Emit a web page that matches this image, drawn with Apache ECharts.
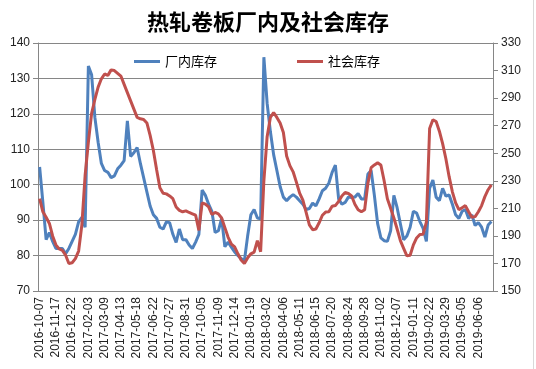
<!DOCTYPE html>
<html>
<head>
<meta charset="utf-8">
<script src="https://cdn.jsdelivr.net/npm/echarts@6/dist/echarts.min.js"></script>
<style>
  html, body { margin: 0; padding: 0; background: #fff; }
  #chart { width: 536px; height: 369px; }
</style>
</head>
<body>
<div id="chart"></div>
<script>
// tick labels shown every 5 weeks
var tickLabels = [
  '2016-10-07', '2016-11-17', '2016-12-22', '2017-02-03', '2017-03-09', '2017-04-13', '2017-05-18',
  '2017-06-22', '2017-07-27', '2017-08-31', '2017-10-05', '2017-11-09', '2017-12-14', '2018-01-19',
  '2018-03-02', '2018-04-06', '2018-05-11', '2018-06-15', '2018-07-20', '2018-08-24', '2018-09-28',
  '2018-11-02', '2018-12-07', '2019-01-11', '2019-02-22', '2019-03-29', '2019-05-05', '2019-06-06'
]

// 厂内库存 (left axis)
var factoryStock = [
  105, 95, 84.5, 86.5, 84, 82, 82, 82, 80.5, 82,
  84, 86, 89.5, 90.8, 88, 133.5, 131, 119, 112, 106,
  104, 103.5, 102, 102.5, 104.5, 105.5, 106.8, 118, 108, 109,
  110.5, 106, 102, 98, 94, 91.5, 90.5, 88, 87.5, 89.5,
  89.3, 86, 83.7, 87.5, 84.5, 84.5, 83, 82, 83.8, 86,
  98.5, 97, 94.5, 92.5, 86.5, 87, 90.5, 82.5, 83.8, 82.4,
  81, 80, 79.2, 78.5, 85.5, 91.5, 93, 90.6, 90.4, 136,
  123, 115, 108.5, 104, 99.5, 96.5, 95.5, 96.5, 97.2, 96.5,
  95.5, 94.5, 93, 93.3, 94.8, 94, 96, 98.3, 99, 100.5,
  103.5, 105.5, 96, 94.5, 95, 96.5, 96.4, 96.5, 97.5, 96,
  96, 103, 104, 97, 89, 85, 84.2, 84, 87, 97,
  93.5, 89, 84.5, 85.5, 88, 92.5, 92, 89.6, 87.7, 84,
  99, 101.3, 96.5, 95.5, 99, 96.8, 97.1, 94.5, 91.5, 90.5,
  92.5, 93, 90.5, 91.5, 88.5, 89.3, 88, 85.2, 88.6, 89.6
]

// 社会库存 (right axis)
var socialStock = [
  217, 207.5, 203.5, 199, 190, 183.5, 180.5, 179.5, 176, 170,
  170.5, 173.5, 179, 198, 234, 258, 279, 289, 298, 304,
  307.5, 306.5, 310.5, 310, 308, 306, 300, 294, 288, 282,
  276, 275, 274.5, 272, 263, 252, 238, 225, 221, 220.5,
  219, 217, 211, 208.5, 207.5, 208.2, 207, 206, 205, 194,
  214, 213, 211, 205.5, 207, 206, 203, 196, 189, 184,
  182, 177, 172.5, 170, 174, 177, 178.2, 186.5, 178.5, 230,
  262, 276, 279.5, 276, 272, 265, 248, 241, 236.5, 229,
  221, 216, 207, 198, 194.5, 195, 199.5, 205, 207.3, 207.5,
  211.5, 212, 215, 219, 221.5, 220.8, 219, 213, 209, 207.5,
  209, 228, 239.5, 241.5, 243, 241.5, 230, 217, 210, 203,
  195, 186.5, 181, 175.5, 176, 183.5, 188.5, 191, 191.2, 200,
  268, 274.3, 273, 266, 257, 246, 233, 222, 214, 209,
  210.5, 212, 207.5, 203.5, 204, 207.5, 212, 218.5, 223.5, 227
]

// weekly categories between the labelled dates
function fmt(d) {
  var m = d.getUTCMonth() + 1, day = d.getUTCDate()
  return d.getUTCFullYear() + '-' + (m < 10 ? '0' : '') + m + '-' + (day < 10 ? '0' : '') + day
}
var categories = []
for (var i = 0; i < factoryStock.length; i++) {
  var base = new Date(tickLabels[Math.floor(i / 5)] + 'T00:00:00Z')
  base.setUTCDate(base.getUTCDate() + 7 * (i % 5))
  categories.push(i % 5 === 0 ? tickLabels[i / 5] : fmt(base))
}

var axisFont = { color: '#222', fontSize: 12, fontFamily: 'Liberation Sans' }

var chart = echarts.init(document.getElementById('chart'))
chart.setOption({
  animation: false,
  title: {
    text: '热轧卷板厂内及社会库存',
    left: 'center',
    top: 6,
    textStyle: { fontFamily: 'Noto Sans CJK SC', fontSize: 22, fontWeight: 'bold', color: '#000' }
  },
  legend: {
    top: 50,
    left: 129,
    itemWidth: 26,
    itemHeight: 3,
    itemGap: 80,
    icon: 'rect',
    textStyle: { fontFamily: 'Noto Sans CJK SC', fontSize: 13, color: '#000' },
    data: ['厂内库存', '社会库存']
  },
  grid: { left: 38, right: 43, top: 43, bottom: 78, containLabel: false },
  xAxis: {
    type: 'category',
    data: categories,
    boundaryGap: true,
    axisLine: { lineStyle: { color: '#868686' } },
    axisTick: { interval: 0, length: 3, lineStyle: { color: '#868686' } },
    axisLabel: Object.assign({ interval: 4, rotate: 90, margin: 6 }, axisFont)
  },
  yAxis: [
    {
      type: 'value',
      min: 70,
      max: 140,
      interval: 10,
      axisLine: { show: true, lineStyle: { color: '#868686' } },
      axisTick: { show: true, length: 5, lineStyle: { color: '#868686' } },
      axisLabel: Object.assign({ margin: 8 }, axisFont),
      splitLine: { lineStyle: { color: '#868686' } }
    },
    {
      type: 'value',
      position: 'right',
      min: 150,
      max: 330,
      interval: 20,
      axisLine: { show: true, lineStyle: { color: '#868686' } },
      axisTick: { show: true, length: 5, lineStyle: { color: '#868686' } },
      axisLabel: Object.assign({ margin: 8 }, axisFont),
      splitLine: { show: false }
    }
  ],
  graphic: [
    { type: 'line', shape: { x1: 533.5, y1: 0, x2: 533.5, y2: 369 }, style: { stroke: '#d9d9d9', lineWidth: 1 } }
  ],
  series: [
    {
      name: '厂内库存',
      type: 'line',
      yAxisIndex: 0,
      data: factoryStock,
      showSymbol: false,
      lineStyle: { color: '#4F81BD', width: 3 },
      itemStyle: { color: '#4F81BD' }
    },
    {
      name: '社会库存',
      type: 'line',
      yAxisIndex: 1,
      data: socialStock,
      showSymbol: false,
      lineStyle: { color: '#C0504D', width: 3 },
      itemStyle: { color: '#C0504D' }
    }
  ]
})
</script>
</body>
</html>
